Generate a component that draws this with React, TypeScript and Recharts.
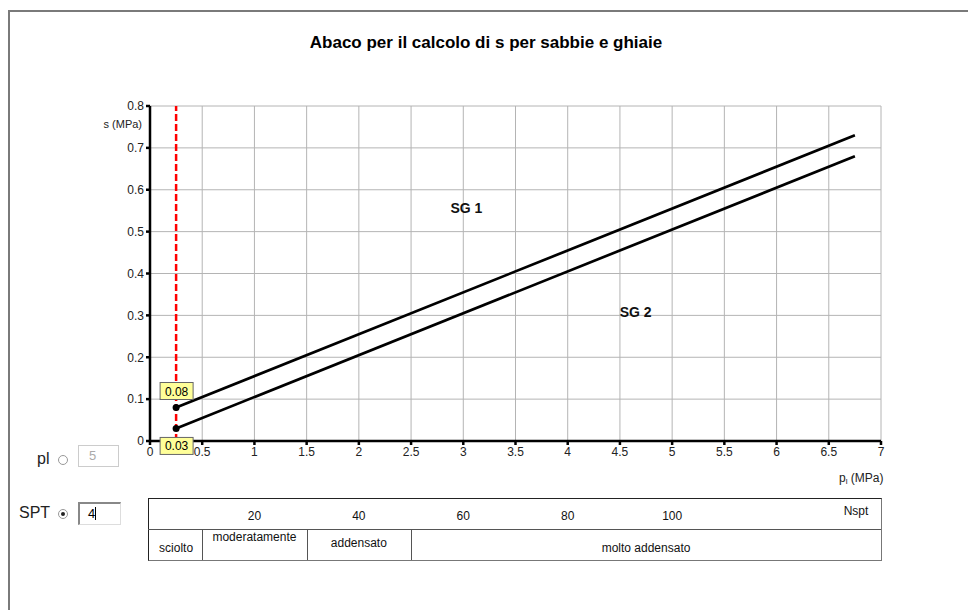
import { LineChart, Line, XAxis, YAxis, CartesianGrid, ReferenceLine, ReferenceDot, LabelList } from "recharts"

// pressiometric limit pressure (MPa) at the start/end of each line
const plPoints = [0.25, 6.75]
const sg1Values = [0.08, 0.73]
const sg2Values = [0.03, 0.68]
const currentPl = 0.25

const xTicks = [0, 0.5, 1, 1.5, 2, 2.5, 3, 3.5, 4, 4.5, 5, 5.5, 6, 6.5, 7]
const yTicks = [0, 0.1, 0.2, 0.3, 0.4, 0.5, 0.6, 0.7, 0.8]

const nsptTicks = [20, 40, 60, 80, 100]
const classLabels = ["sciolto", "moderatamente", "addensato", "molto addensato"]
const classBounds = [0, 10, 30, 50, 140]

const sg1Data = plPoints.map((pl, i) => ({ pl, s: sg1Values[i] }))
const sg2Data = plPoints.map((pl, i) => ({ pl, s: sg2Values[i] }))

const W = 968
const H = 610
const PLOT_LEFT = 150
const PLOT_RIGHT = 881
const X_MAX = 7
const font = '"Liberation Sans", Arial, sans-serif'

// Nspt = 20 * pl, used to line the table up with the x axis
const nsptToPx = (n: number) => PLOT_LEFT + (n / 20) * ((PLOT_RIGHT - PLOT_LEFT) / X_MAX)

const firstDot = (props: any) => {
  if (props.index !== 0) return <g key={props.key ?? props.index} />
  return <circle key={props.key ?? props.index} cx={props.cx} cy={props.cy} r={3.5} fill="#000" />
}

const valueBox = (below: boolean) => (props: any) => {
  if (props.index !== 0) return null
  const { x, y, value } = props
  const top = below ? y + 9 : y - 25
  return (
    <g>
      <rect x={x - 16} y={top} width={33} height={17} fill="#ffff99" stroke="#666" strokeWidth={1} />
      <text x={x + 0.5} y={top + 13} textAnchor="middle" fontSize={12} fontFamily={font} fill="#000">
        {value.toFixed(2)}
      </text>
    </g>
  )
}

function Radio({ checked }: { checked: boolean }) {
  return (
    <div style={{ width: 8, height: 8, borderRadius: "50%", border: "1px solid #999", background: "#fff", position: "relative" }}>
      {checked && <div style={{ position: "absolute", left: 2, top: 2, width: 4, height: 4, borderRadius: "50%", background: "#222" }} />}
    </div>
  )
}

export default function App() {
  const cell = { position: "absolute" as const, fontSize: 12, color: "#111", textAlign: "center" as const }
  return (
    <div style={{ position: "relative", width: W, height: H, overflow: "hidden", fontFamily: font, background: "#fff" }}>
      <style>{"body{margin:0}"}</style>
      <div style={{ position: "absolute", left: 8, top: 10, width: 1100, height: 800, border: "2px solid #7a7a7a" }} />

      <div style={{ position: "absolute", left: 0, width: 972, top: 33, textAlign: "center", fontSize: 17, fontWeight: "bold", color: "#000" }}>
        Abaco per il calcolo di s per sabbie e ghiaie
      </div>

      <div style={{ position: "absolute", top: 0, left: 0 }}>
        <LineChart width={W} height={H} margin={{ top: 106, right: W - PLOT_RIGHT, left: PLOT_LEFT - 60, bottom: H - 441 - 30 }}>
          <CartesianGrid stroke="#b4b4b4" strokeWidth={1} />
          <XAxis
            dataKey="pl"
            type="number"
            domain={[0, X_MAX]}
            ticks={xTicks}
            interval={0}
            allowDuplicatedCategory={false}
            tickFormatter={(v) => String(v)}
            stroke="#000"
            strokeWidth={2.5}
            tickSize={4}
            tick={{ fill: "#222", fontSize: 12, fontFamily: font }}
          />
          <YAxis
            type="number"
            domain={[0, 0.8]}
            ticks={yTicks}
            interval={0}
            tickFormatter={(v) => String(v)}
            stroke="#000"
            strokeWidth={2.5}
            tickSize={4}
            tick={{ fill: "#222", fontSize: 12, fontFamily: font }}
          />
          <ReferenceLine x={currentPl} stroke="#ff0000" strokeWidth={2.5} strokeDasharray="7 3" />
          <ReferenceDot x={3.03} y={0.556} r={0} stroke="none" fill="none" label={{ value: "SG 1", position: "center", fontSize: 14, fontWeight: "bold", fill: "#111", fontFamily: font }} />
          <ReferenceDot x={4.65} y={0.308} r={0} stroke="none" fill="none" label={{ value: "SG 2", position: "center", fontSize: 14, fontWeight: "bold", fill: "#111", fontFamily: font }} />
          <Line data={sg1Data} dataKey="s" type="linear" stroke="#000" strokeWidth={2.7} dot={firstDot} activeDot={false} isAnimationActive={false}>
            <LabelList dataKey="s" content={valueBox(false)} />
          </Line>
          <Line data={sg2Data} dataKey="s" type="linear" stroke="#000" strokeWidth={2.7} dot={firstDot} activeDot={false} isAnimationActive={false}>
            <LabelList dataKey="s" content={valueBox(true)} />
          </Line>
        </LineChart>
      </div>

      <div style={{ position: "absolute", left: 100, top: 118, width: 42, textAlign: "right", fontSize: 11, color: "#222" }}>s (MPa)</div>
      <div style={{ position: "absolute", left: 839, top: 471, fontSize: 12, color: "#222", whiteSpace: "nowrap" }}>
        p<span style={{ fontSize: 8, position: "relative", top: 2 }}>l</span> (MPa)
      </div>

      {/* input controls */}
      <div style={{ position: "absolute", left: 37, top: 450, fontSize: 16, color: "#222" }}>pl</div>
      <div style={{ position: "absolute", left: 58, top: 455 }}><Radio checked={false} /></div>
      <div style={{ position: "absolute", left: 78, top: 445, width: 41, height: 22, border: "1px solid #ccc", boxSizing: "border-box", fontSize: 13, color: "#aaa", paddingLeft: 10, lineHeight: "20px" }}>5</div>
      <div style={{ position: "absolute", left: 19, top: 504, fontSize: 16, color: "#222" }}>SPT</div>
      <div style={{ position: "absolute", left: 58, top: 509 }}><Radio checked={true} /></div>
      <div style={{ position: "absolute", left: 78, top: 502, width: 43, height: 23, borderTop: "2px solid #888", borderLeft: "2px solid #888", borderRight: "1px solid #ddd", borderBottom: "1px solid #ddd", boxSizing: "border-box", fontSize: 13, color: "#000", paddingLeft: 8, lineHeight: "19px" }}>
        4<span style={{ display: "inline-block", width: 1, height: 13, background: "#000", verticalAlign: "-2px" }} />
      </div>

      {/* Nspt / density table */}
      <div style={{ position: "absolute", left: 148, top: 498, width: PLOT_RIGHT - 148 + 1, height: 63, border: "1px solid #222", borderBottomColor: "#777", borderRightColor: "#777", boxSizing: "border-box" }} />
      <div style={{ position: "absolute", left: 148, top: 529, width: PLOT_RIGHT - 148, height: 1, background: "#555" }} />
      {classBounds.slice(1, -1).map((b) => (
        <div key={b} style={{ position: "absolute", left: nsptToPx(b), top: 529, width: 1, height: 31, background: "#555" }} />
      ))}
      {nsptTicks.map((n) => (
        <div key={n} style={{ ...cell, left: nsptToPx(n) - 20, width: 40, top: 509 }}>{n}</div>
      ))}
      <div style={{ ...cell, left: 836, width: 40, top: 504 }}>Nspt</div>
      {classLabels.map((label, i) => {
        const l = Math.max(148, nsptToPx(classBounds[i]))
        const r = Math.min(PLOT_RIGHT, nsptToPx(classBounds[i + 1]))
        const top = i === 1 ? 530 : i === 2 ? 536 : 541
        return (
          <div key={label} style={{ ...cell, left: l, width: r - l, top }}>{label}</div>
        )
      })}
    </div>
  )
}
